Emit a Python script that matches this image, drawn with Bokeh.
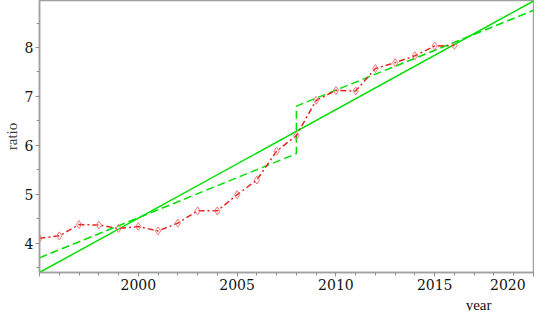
from bokeh.plotting import figure
from bokeh.models import Range1d, Title, SingleIntervalTicker
from bokeh.embed import file_html
from bokeh.resources import INLINE

# Observed ratio by year
years = list(range(1995, 2017))
ratio = [4.10, 4.15, 4.38, 4.37, 4.30, 4.34, 4.25, 4.41, 4.66, 4.66, 4.99,
         5.29, 5.88, 6.20, 6.92, 7.12, 7.11, 7.57, 7.69, 7.83, 8.03, 8.04]

# Linear trend
trend_years = [1995, 2020]
trend_values = [3.40, 8.95]

# Trend with level shift at 2008
break_years = [1995, 2008, 2008, 2020]
break_values = [3.70, 5.83, 6.80, 8.76]

x_first_tick = 1995
x_last_tick = 2020
x_label = "year"
y_label = "ratio"

SERIF = "DejaVu Serif"
AX = "#a0a0a0"
PAD = "\u00a0\u00a0"

p = figure(width=534, height=311,
           x_range=Range1d(1995, 2020), y_range=Range1d(3.40, 8.96),
           output_backend="svg", toolbar_location=None,
           min_border_left=32, min_border_right=1,
           min_border_top=0, min_border_bottom=0)

p.xgrid.visible = False
p.ygrid.visible = False
p.outline_line_color = AX
p.outline_line_width = 1.5
p.background_fill_color = "white"
p.border_fill_color = "white"

p.xaxis.ticker = SingleIntervalTicker(interval=5, num_minor_ticks=5)
p.yaxis.ticker = SingleIntervalTicker(interval=1, num_minor_ticks=2)

for ax in (p.xaxis, p.yaxis):
    ax.axis_line_color = AX
    ax.axis_line_width = 1.5
    ax.major_tick_line_color = "#909090"
    ax.minor_tick_line_color = "#909090"
    ax.major_tick_in = 0
    ax.major_tick_out = 4
    ax.minor_tick_in = 0
    ax.minor_tick_out = 3
    ax.major_label_text_font = SERIF
    ax.major_label_text_font_size = "14px"
    ax.major_label_text_color = "#111111"
    ax.major_label_standoff = 2

p.xaxis.major_label_standoff = 0
# first label hidden, last label kept inside the frame
p.xaxis.major_label_overrides = {
    x_first_tick: "",
    x_last_tick: str(x_last_tick) + PAD,
}

p.yaxis.axis_label = y_label
p.yaxis.axis_label_text_font = "Liberation Serif"
p.yaxis.axis_label_text_font_style = "normal"
p.yaxis.axis_label_text_font_size = "15px"
p.yaxis.axis_label_standoff = 2

# series
p.line(trend_years, trend_values, line_color="#00e000", line_width=1.5)
p.line(break_years, break_values, line_color="#00e000", line_width=1.5,
       line_dash="8 4")
p.line(years, ratio, line_color="#e52222", line_width=1.5, line_dash="6 3 2 3")
p.scatter(years, ratio, marker="diamond", size=8, fill_color=None,
          line_color="#f07878", line_width=1)

# x axis title at the right, under the tick labels
p.add_layout(Title(text=x_label, align="right", offset=42, standoff=-2,
                   text_font="Liberation Serif", text_font_size="15px",
                   text_font_style="normal", text_color="#111111"), "below")

open("out.html", "w").write(file_html(p, INLINE))
